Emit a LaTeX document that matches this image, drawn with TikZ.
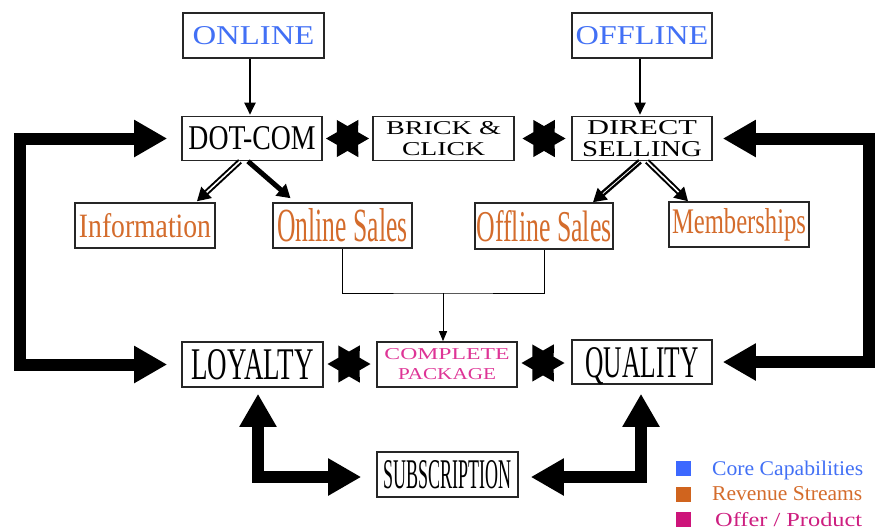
\documentclass[tikz,border=0pt]{standalone}
\usepackage{fontspec}
\setmainfont{Liberation Serif}
\usepackage{graphicx}
\usetikzlibrary{arrows.meta,calc}

\definecolor{coreblue}{RGB}{66,112,245}
\definecolor{keyblue}{RGB}{60,104,255}
\definecolor{revorange}{RGB}{212,108,44}
\definecolor{keyorange}{RGB}{208,100,30}
\definecolor{pkgpink}{RGB}{222,52,150}
\definecolor{offermag}{RGB}{205,30,128}
\definecolor{keymag}{RGB}{205,20,122}

% scale a piece of text to a given width and height (in pt)
\newcommand{\fitbox}[3]{\resizebox{#1pt}{#2pt}{#3}}

\begin{document}
\begin{tikzpicture}[x=1pt,y=-1pt,
  box/.style={draw=black!85, line width=1.6pt, fill=white, inner sep=0pt,
    minimum width=140pt, minimum height=44pt},
  linkstar/.pic={
    \fill[black] (0:21.5) -- (30:12.4) -- (60:21.5) -- (90:12.4)
      -- (120:21.5) -- (150:12.4) -- (180:21.5) -- (210:12.4)
      -- (240:21.5) -- (270:12.4) -- (300:21.5) -- (330:12.4) -- cycle;
  },
  bigarrow/.style={line width=12pt, line join=miter,
    {Triangle[length=33pt,width=35pt]}-{Triangle[length=33pt,width=35pt]}},
  feed/.style={line width=2pt, -{Triangle[length=12pt,width=11pt]}},
  branch/.style={line width=5pt, -{Triangle[length=13pt,width=15pt]}},
  dbranch/.style={double=white, draw=black, line width=2pt,
    double distance=1.6pt, -{Triangle[length=13pt,width=15pt]}},
  sbranch/.style={double=white, draw=black, line width=2.4pt,
    double distance=0.8pt, -{Triangle[length=13pt,width=15pt]}},
  merge/.style={line width=1pt},
  mergehead/.style={line width=1pt, -{Triangle[length=10pt,width=8pt]}},
  key/.style={minimum size=15pt, inner sep=0pt, draw=none},
  keytext/.style={anchor=base west, inner sep=0pt}
]
\useasboundingbox (0,0) rectangle (875,531);

% channels
\node[box, text=coreblue, minimum width=141pt, minimum height=45pt] (online) at (253.5,35.5) {\fitbox{122}{18}{ONLINE}};
\node[box, text=coreblue, minimum height=45pt] (offline) at (642,35.5) {\fitbox{133}{18}{OFFLINE}};

% business models
\node[box] (dotcom) at (252,138.5) {\fitbox{127}{23}{DOT-COM}};
\node[box, minimum width=141pt, align=center, font=\fontsize{12}{21}\selectfont] (brick) at (443.5,138.5)
  {\fitbox{115}{13}{BRICK \&}\\\fitbox{83}{13}{CLICK}};
\node[box, align=center, font=\fontsize{12}{22}\selectfont] (direct) at (642,138.5)
  {\fitbox{110}{14}{DIRECT}\\\fitbox{120}{15}{SELLING}};

% revenue streams
\node[box, text=revorange, minimum height=45pt] (info) at (145,225.5) {\fitbox{132}{24}{Information}};
\node[box, text=revorange, minimum width=139pt, minimum height=45pt] (onsales) at (342.5,225.5) {\fitbox{130}{33}{Online Sales}};
\node[box, text=revorange, minimum width=138pt, minimum height=46pt] (offsales) at (544,226) {\fitbox{135}{31}{Offline Sales}};
\node[box, text=revorange, minimum height=45pt] (members) at (739,224.5) {\fitbox{134}{25}{Memberships}};

% offer
\node[box, minimum width=141pt, minimum height=45pt] (loyalty) at (252.5,364.5) {\fitbox{122}{30}{LOYALTY}};
\node[box, text=pkgpink, minimum height=45pt, align=center, font=\fontsize{10}{20}\selectfont] (complete) at (447,364.5)
  {\fitbox{125}{11}{COMPLETE}\\\fitbox{98}{11}{PACKAGE}};
\node[box, text depth=0pt] (quality) at (642,362) {\fitbox{113}{30}{QUALITY}};
\node[box, minimum width=141pt, minimum height=45pt] (subscr) at (447.5,474.5) {\fitbox{128}{28}{SUBSCRIPTION}};

% six-pointed star links between neighbouring boxes
\pic (s1) at (347.5,138.5) {linkstar};
\pic (s2) at (544,138.5) {linkstar};
\pic (s3) at (349,364) {linkstar};
\pic (s4) at (543,363) {linkstar};

% outer feedback loops
\draw[bigarrow] ($(dotcom.west)+(-14,0)$) -| ($(loyalty.west)+(-161,0)$) -- ($(loyalty.west)+(-14,0)$);
\draw[bigarrow] ($(direct.east)+(10,0)$) -| ($(quality.east)+(156,0)$) -- ($(quality.east)+(10,0)$);
\draw[bigarrow] ($(loyalty.south)+(5.5,6)$) |- ($(subscr.west)+(-15,2.5)$);
\draw[bigarrow] ($(quality.south)+(-1,9)$) |- ($(subscr.east)+(12,2.5)$);

% channel feeds
\draw[feed] ($(online.south)+(-3.5,0)$) -- ($(dotcom.north)+(-2,-1)$);
\draw[feed] ($(offline.south)+(-2,0)$) -- ($(direct.north)+(-2,-1)$);

% branches to revenue streams
\draw[dbranch] ($(dotcom.south)+(-12,0)$) -- ($(info.north)+(52,-1)$);
\draw[branch] ($(dotcom.south)+(-4,0)$) -- ($(onsales.north)+(-52,-4)$);
\draw[sbranch] ($(direct.south)+(-2,0)$) -- ($(offsales.north)+(49,0)$);
\draw[dbranch] ($(direct.south)+(5,0)$) -- ($(members.north)+(-51,0)$);

% sales merge into the complete package
\coordinate (split) at (443,293);
\draw[merge] (onsales.south) |- (split) -| (offsales.south);
\draw[mergehead] (split) -- (split |- complete.north);

% legend
\node[key, fill=keyblue] (kcore) at (683.5,468.5) {};
\node[keytext, text=coreblue] (tcore) at (712,475) {\fitbox{151}{14.5}{Core Capabilities}};
\node[key, fill=keyorange] (krev) at (683.5,494.5) {};
\node[keytext, text=revorange] (trev) at (712,500.5) {\fitbox{150}{14}{Revenue Streams}};
\node[key, fill=keymag] (koff) at (683.5,519.5) {};
\node[keytext, text=offermag] (toff) at (715,526) {\fitbox{147}{14}{Offer / Product}};
\end{tikzpicture}
\end{document}
